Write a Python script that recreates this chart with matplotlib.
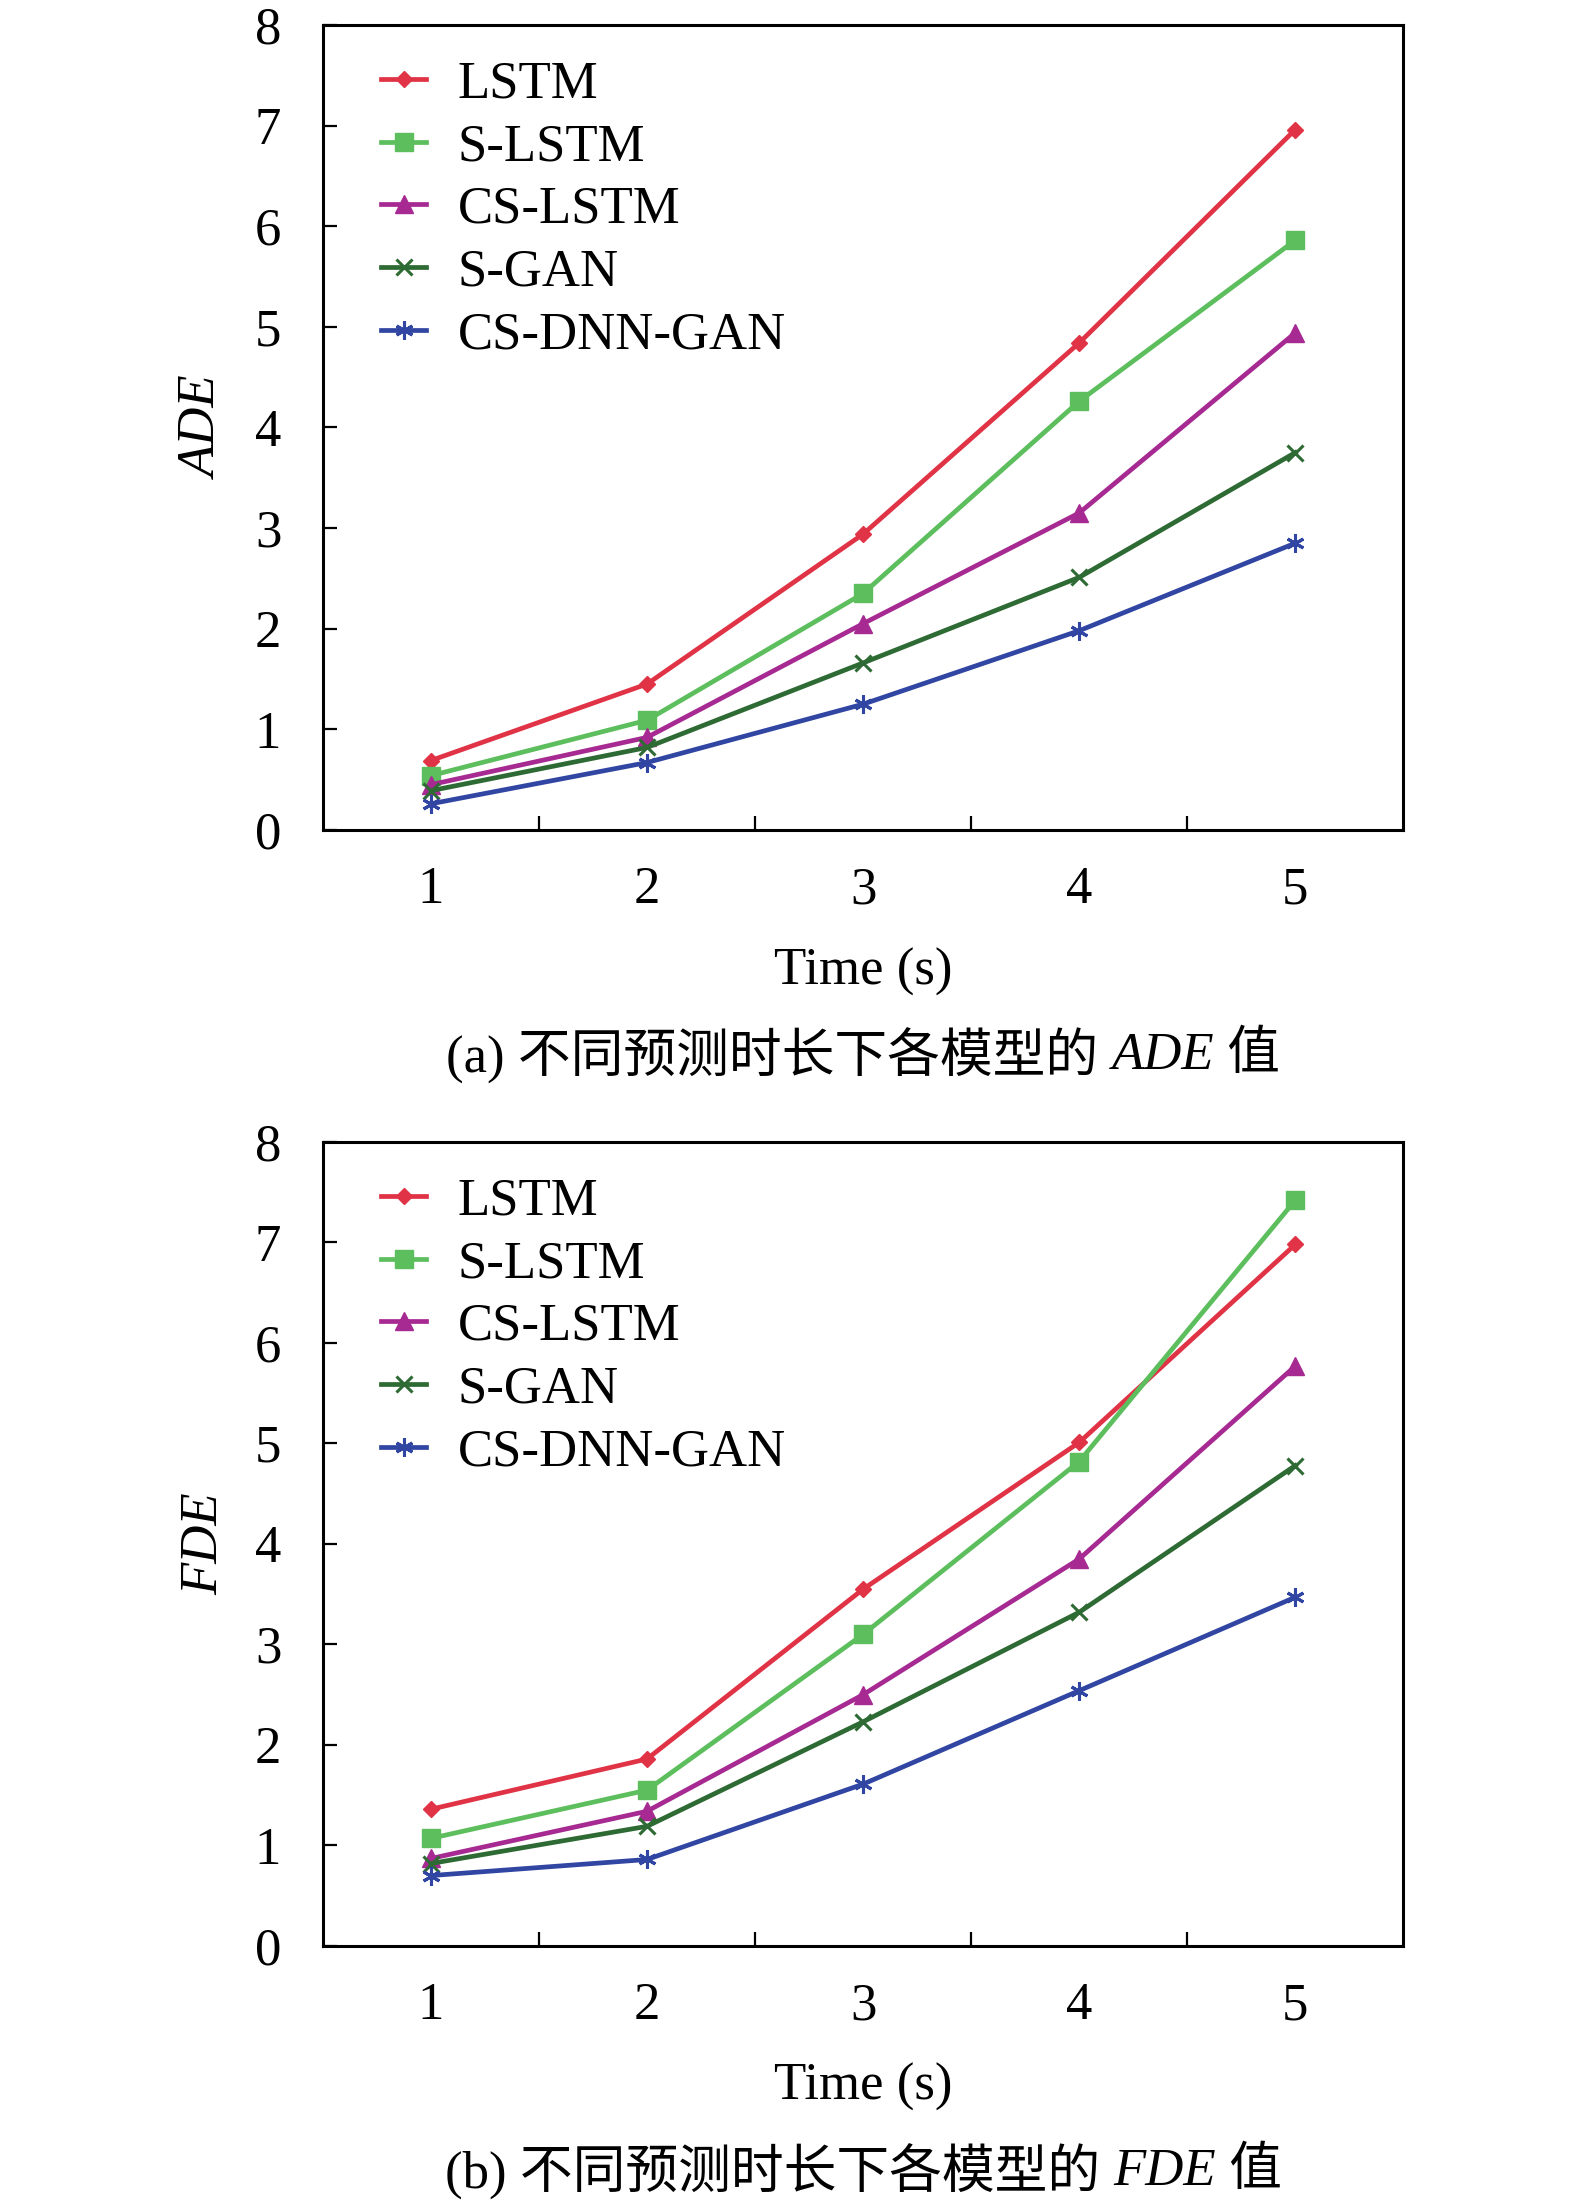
import matplotlib
matplotlib.use('Agg')
import matplotlib.pyplot as plt

plt.rcParams['font.family'] = ['Liberation Serif', 'Noto Sans CJK SC']

times = [1, 2, 3, 4, 5]
models = ['LSTM', 'S-LSTM', 'CS-LSTM', 'S-GAN', 'CS-DNN-GAN']

ade_lstm = [0.69, 1.45, 2.94, 4.84, 6.96]
ade_slstm = [0.54, 1.09, 2.35, 4.26, 5.86]
ade_cslstm = [0.45, 0.92, 2.05, 3.15, 4.94]
ade_sgan = [0.39, 0.82, 1.66, 2.51, 3.75]
ade_csdnn = [0.26, 0.67, 1.25, 1.98, 2.85]

fde_lstm = [1.36, 1.86, 3.55, 5.01, 6.98]
fde_slstm = [1.07, 1.55, 3.10, 4.82, 7.42]
fde_cslstm = [0.87, 1.34, 2.50, 3.85, 5.77]
fde_sgan = [0.82, 1.19, 2.23, 3.32, 4.78]
fde_csdnn = [0.70, 0.86, 1.61, 2.54, 3.47]

colors = ['#E03346', '#5DBE5D', '#A62A92', '#2E6A33', '#3146A2']
markers = ['D', 's', '^', 'x', (6, 2, 0)]
msizes = [8, 13, 13, 11, 13]

FS = 38
AX_L, AX_W = 0.205, 0.686

fig = plt.figure(figsize=(15.75, 22.05), dpi=100)
ax1 = fig.add_axes([AX_L, 0.6236, AX_W, 0.3651])
ax2 = fig.add_axes([AX_L, 0.1175, AX_W, 0.3646])


def draw(ax, series, ylab):
    for vals, name, c, m, ms in zip(series, models, colors, markers, msizes):
        ax.plot(times, vals, color=c, lw=3.4, marker=m, markersize=ms,
                markeredgewidth=2.2 if m == 'x' or isinstance(m, tuple) else 1,
                label=name)
    ax.set_xlim(0.5, 5.5)
    ax.set_ylim(0, 8)
    ax.set_yticks(range(0, 9))
    # category boundaries carry the tick marks, the labels sit in between
    ax.set_xticks([1.5, 2.5, 3.5, 4.5])
    ax.set_xticklabels([])
    ax.set_xticks(times, minor=True)
    ax.set_xticklabels([str(t) for t in times], minor=True, fontsize=FS)
    ax.tick_params(axis='x', which='minor', length=0, pad=26)
    ax.tick_params(axis='x', which='major', direction='in', length=10, width=1.6)
    ax.tick_params(axis='y', direction='in', length=10, width=1.6, pad=30, labelsize=FS)
    for s in ax.spines.values():
        s.set_linewidth(2.2)
    ax.set_xlabel('Time (s)', fontsize=FS)
    ax.xaxis.set_label_coords(0.5, -0.146)
    ax.set_ylabel(ylab, fontsize=FS, fontstyle='italic')
    ax.yaxis.set_label_coords(-0.088, 0.5)
    ax.legend(loc='upper left', frameon=False, fontsize=FS, handlelength=0.85,
              handletextpad=0.6, labelspacing=0.28, borderaxespad=0.3,
              bbox_to_anchor=(0.02, 1.002))


draw(ax1, [ade_lstm, ade_slstm, ade_cslstm, ade_sgan, ade_csdnn], 'ADE')
draw(ax2, [fde_lstm, fde_slstm, fde_cslstm, fde_sgan, fde_csdnn], 'FDE')

# captions: mixed upright / italic pieces, laid out side by side
fig.canvas.draw()
renderer = fig.canvas.get_renderer()


def caption(y, parts):
    texts = []
    for s, style in parts:
        t = fig.text(0, y, s, fontsize=FS, fontstyle=style, va='center', ha='left')
        texts.append(t)
    widths = [t.get_window_extent(renderer).width for t in texts]
    total = sum(widths)
    cx = (AX_L + AX_W / 2) * fig.bbox.width
    x = cx - total / 2
    for t, w in zip(texts, widths):
        t.set_x(x / fig.bbox.width)
        x += w


caption(0.5213, [('(a) 不同预测时长下各模型的 ', 'normal'), ('ADE', 'italic'), (' 值', 'normal')])
caption(0.0150, [('(b) 不同预测时长下各模型的 ', 'normal'), ('FDE', 'italic'), (' 值', 'normal')])

fig.savefig('out.png', dpi=100)
